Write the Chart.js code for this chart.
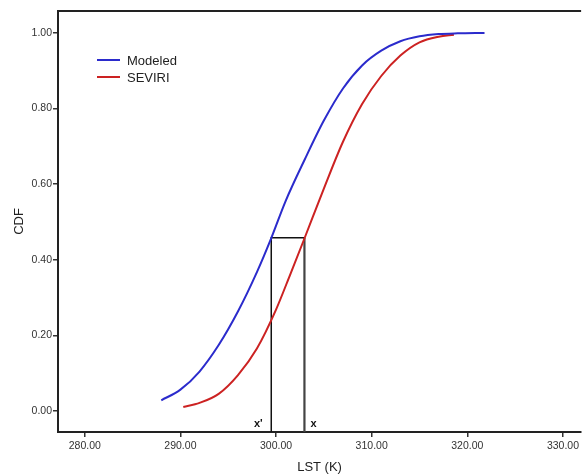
<!DOCTYPE html>
<html>
<head>
<meta charset="utf-8">
<script src="https://cdn.jsdelivr.net/npm/chart.js@4.4.1/dist/chart.umd.min.js"></script>
<style>
  html, body { margin: 0; padding: 0; background: #fff; }
  #wrap { width: 582px; height: 476px; position: relative; }
</style>
</head>
<body>
<div id="wrap"><canvas id="cdfChart" width="582" height="476"></canvas></div>
<script>
// --- Data ---
const modeledX = [288.0, 290.0, 292.0, 294.0, 296.0, 298.0, 299.5, 301.0, 303.0, 305.0, 307.0, 309.0, 311.0, 313.0, 315.0, 317.0, 319.0, 321.8];
const modeledY = [0.028, 0.056, 0.104, 0.174, 0.262, 0.367, 0.457, 0.555, 0.665, 0.768, 0.853, 0.914, 0.953, 0.978, 0.991, 0.997, 0.999, 1.000];

const seviriX = [290.3, 292.0, 294.0, 296.0, 298.0, 300.0, 301.5, 303.0, 305.0, 307.0, 309.0, 311.0, 313.0, 315.0, 317.0, 318.6];
const seviriY = [0.010, 0.021, 0.045, 0.094, 0.165, 0.268, 0.362, 0.458, 0.588, 0.712, 0.812, 0.886, 0.940, 0.975, 0.990, 0.995];

// x' and x marker positions (K) and the CDF level they share
const xPrime = 299.5;
const xMark = 302.97;
const markLevel = 0.458;

const xTicks = [280, 290, 300, 310, 320, 330];
const yTicks = [0, 0.2, 0.4, 0.6, 0.8, 1.0];

const xMin = 277.2, xMax = 331.9;
const yMin = -0.056, yMax = 1.058;

const toPoints = (xs, ys) => xs.map((x, i) => ({ x: x, y: ys[i] }));

// --- Plugin: top frame line, legend and x / x' labels ---
const decorations = {
    id: 'decorations',
    afterDatasetsDraw(chart) {
        const { ctx, chartArea, scales } = chart;
        ctx.save();
        // top frame line
        ctx.strokeStyle = '#222';
        ctx.lineWidth = 2;
        ctx.beginPath();
        ctx.moveTo(chartArea.left, chartArea.top);
        ctx.lineTo(chartArea.right, chartArea.top);
        ctx.stroke();

        // legend
        const items = chart.data.datasets.filter(d => d.showInLegend);
        ctx.font = '13px "Liberation Sans", Arial, sans-serif';
        ctx.textBaseline = 'middle';
        items.forEach((d, i) => {
            const y = 60 + i * 17;
            ctx.strokeStyle = d.borderColor;
            ctx.lineWidth = 2;
            ctx.beginPath();
            ctx.moveTo(97, y);
            ctx.lineTo(120, y);
            ctx.stroke();
            ctx.fillStyle = '#222';
            ctx.fillText(d.label, 127, y + 1);
        });

        // x' and x labels
        ctx.font = 'bold 11px "Liberation Sans", Arial, sans-serif';
        ctx.fillStyle = '#111';
        ctx.textAlign = 'center';
        const ly = scales.y.getPixelForValue(-0.034);
        ctx.fillText("x'", scales.x.getPixelForValue(xPrime) - 13, ly);
        ctx.fillText('x', scales.x.getPixelForValue(xMark) + 9, ly);
        ctx.restore();
    }
};

const axisFont = { family: '"Liberation Sans", Arial, sans-serif', size: 10.5 };

new Chart(document.getElementById('cdfChart'), {
    type: 'line',
    data: {
        datasets: [
            {
                label: 'Modeled',
                showInLegend: true,
                data: toPoints(modeledX, modeledY),
                borderColor: '#2b2bcc',
                borderWidth: 2,
                pointRadius: 0,
                cubicInterpolationMode: 'monotone',
                fill: false
            },
            {
                label: 'SEVIRI',
                showInLegend: true,
                data: toPoints(seviriX, seviriY),
                borderColor: '#cc2222',
                borderWidth: 2,
                pointRadius: 0,
                cubicInterpolationMode: 'monotone',
                fill: false
            },
            {
                label: 'x-prime',
                data: [{ x: xPrime, y: yMin }, { x: xPrime, y: markLevel }, { x: xMark, y: markLevel }],
                borderColor: '#111',
                borderWidth: 1.5,
                pointRadius: 0,
                tension: 0,
                fill: false
            },
            {
                label: 'x',
                data: [{ x: xMark, y: markLevel }, { x: xMark, y: yMin }],
                borderColor: '#444',
                borderWidth: 2.2,
                pointRadius: 0,
                tension: 0,
                fill: false
            }
        ]
    },
    options: {
        responsive: false,
        animation: false,
        layout: { padding: { top: 11, right: 0, left: 0, bottom: 0 } },
        plugins: {
            legend: { display: false },
            tooltip: { enabled: false }
        },
        scales: {
            x: {
                type: 'linear',
                min: xMin,
                max: xMax,
                afterBuildTicks: scale => { scale.ticks = xTicks.map(v => ({ value: v })); },
                afterFit: scale => { scale.height = 44; },
                grid: {
                    display: true,
                    drawOnChartArea: false,
                    drawTicks: true,
                    tickLength: 5,
                    color: '#333',
                    lineWidth: 1.5
                },
                border: { display: true, color: '#222', width: 2 },
                ticks: {
                    color: '#333',
                    font: axisFont,
                    padding: 3,
                    maxRotation: 0,
                    callback: v => v.toFixed(2)
                },
                title: {
                    display: true,
                    text: 'LST (K)',
                    color: '#222',
                    font: { family: '"Liberation Sans", Arial, sans-serif', size: 13 },
                    padding: { top: 4, bottom: 1 }
                }
            },
            y: {
                type: 'linear',
                min: yMin,
                max: yMax,
                afterBuildTicks: scale => { scale.ticks = yTicks.map(v => ({ value: v })); },
                afterFit: scale => { scale.width = 58; },
                grid: {
                    display: true,
                    drawOnChartArea: false,
                    drawTicks: true,
                    tickLength: 5,
                    color: '#333',
                    lineWidth: 1.5
                },
                border: { display: true, color: '#222', width: 2 },
                ticks: {
                    color: '#333',
                    font: axisFont,
                    padding: 1,
                    callback: v => v.toFixed(2)
                },
                title: {
                    display: true,
                    text: 'CDF',
                    color: '#222',
                    font: { family: '"Liberation Sans", Arial, sans-serif', size: 13 },
                    padding: { top: 12, bottom: 4 }
                }
            }
        }
    },
    plugins: [decorations]
});
</script>
</body>
</html>
